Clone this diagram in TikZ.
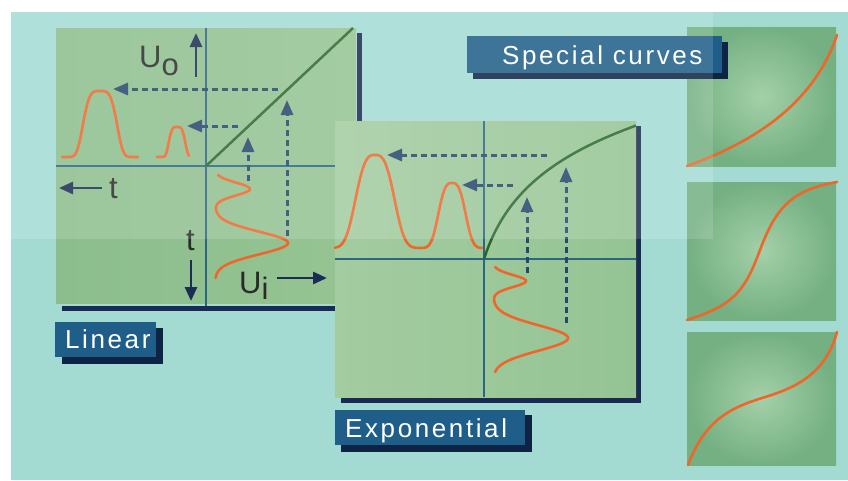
\documentclass[tikz,border=0pt]{standalone}
\usepackage{fontspec}
\setmainfont{Liberation Sans}
\newfontfamily\lblfont{Liberation Sans}[LetterSpace=10]
\usetikzlibrary{arrows.meta}
\definecolor{bgcyan}{HTML}{A3DBD3}
\definecolor{panelL}{HTML}{8CBD8C}
\definecolor{panelR}{HTML}{96C493}
\definecolor{expL}{HTML}{A3CCA0}
\definecolor{expR}{HTML}{95C494}
\definecolor{spin}{HTML}{A4D0A8}
\definecolor{spout}{HTML}{74B082}
\definecolor{boxblue}{HTML}{1F5E88}
\definecolor{boxshadow}{HTML}{0D2445}
\definecolor{barnavy}{HTML}{1B2A52}
\definecolor{axisblue}{HTML}{2B6686}
\definecolor{pulseorange}{HTML}{F0662A}
\definecolor{curvegreen}{HTML}{2A672C}
\definecolor{dashblue}{HTML}{27476C}
\definecolor{arrownavy}{HTML}{1A2E55}
\definecolor{txtdark}{HTML}{2A2A2A}
\tikzset{
  axisline/.style={draw=axisblue, line width=1.6pt},
  bar/.style={fill=barnavy},
  pulse/.style={draw=pulseorange, line width=2.6pt, line cap=round, line join=round},
  transfer/.style={draw=curvegreen, line width=2.5pt},
  dasharrow/.style={draw=dashblue, line width=3pt, dash pattern=on 6pt off 4pt, -{Triangle[length=15pt,width=12pt]}},
  solidarrow/.style={draw=arrownavy, line width=2.8pt, -{Triangle[length=14pt,width=12pt]}},
  axtext/.style={text=txtdark, inner sep=0pt, anchor=base west, font=\fontsize{31}{31}\selectfont},
  lbltext/.style={text=white, inner sep=0pt, anchor=base west, font=\lblfont\fontsize{26}{26}\selectfont},
}
\begin{document}
\begin{tikzpicture}[x=1pt,y=-1pt]
\useasboundingbox (0,0) rectangle (848,480);
\fill[white] (0,0) rectangle (848,480);
\fill[bgcyan] (11,12) rectangle (848,480);

% ---------------- Linear panel ----------------
\fill[bar] (357,33) rectangle (362,311);
\fill[bar] (62,306) rectangle (362,311);
\shade[left color=panelL, right color=panelR] (56,28) rectangle (356,303);
\coordinate (lo) at (206,166);
\draw[axisline] (206,28) -- (206,306);
\draw[axisline] (56,166) -- (356,166);
\draw[transfer] (lo) -- (353,28);
% output pulses
\draw[pulse] plot[domain=62:138, samples=90] (\x, {157-66*exp(-((\x-100)*(\x-100)/346)^2)});
\draw[pulse] plot[domain=157:189, samples=50] (\x, {157-30*exp(-((\x-177)*(\x-177)/81)^2)});
% input pulse
\draw[pulse] plot[domain=175:278, samples=120] ({215+35*exp(-(\x-189)*(\x-189)/81)+73*exp(-(\x-243)*(\x-243)/256)}, \x);
% dashed projections
\draw[dasharrow] (278,89) -- (113,89);
\draw[dasharrow] (238,126) -- (187,126);
\draw[dasharrow] (287,236) -- (287,100);
\draw[dasharrow] (248,181) -- (248,137);
% axis arrows and labels
\draw[solidarrow] (196,77) -- (196,33);
\node[axtext] (uo) at (139,67) {U\raisebox{-8pt}{o}};
\draw[solidarrow] (102,188) -- (59,188);
\node[axtext] (tl) at (109,198) {t};
\draw[solidarrow] (191,260) -- (191,301);
\node[axtext] (td) at (186,250) {t};
\node[axtext] (ui) at (239,293) {U\raisebox{-6pt}{i}};
\draw[solidarrow] (277,278) -- (327,278);
% label
\fill[boxshadow] (62,328) rectangle (163,364);
\fill[boxblue] (55,322) rectangle (156,357);
\node[lbltext] (linlbl) at (65,348) {Linear};

% ---------------- Exponential panel ----------------
\fill[bar] (636,126) rectangle (641,403);
\fill[bar] (341,398) rectangle (641,403);
\shade[left color=expL, right color=expR] (335,121) rectangle (636,397);
\coordinate (eo) at (484,259);
\draw[axisline] (484,121) -- (484,397);
\draw[axisline] (335,259) -- (636,259);
\draw[transfer] plot[domain=484:636, samples=100] (\x, {259-62*ln(1+(\x-484)/20)});
% output pulses
\draw[pulse] plot[domain=335:482, samples=200] (\x, {248-93*exp(-(abs(\x-375)/22.6)^3)-65*exp(-(abs(\x-452)/15.8)^3)});
% input pulse
\draw[pulse] plot[domain=267:372, samples=120] ({493+33*exp(-(\x-281)*(\x-281)/72)+75*exp(-(\x-338)*(\x-338)/324)}, \x);
% dashed projections
\draw[dasharrow] (547,155) -- (387,155);
\draw[dasharrow] (513,185) -- (462,185);
\draw[dasharrow] (566,323) -- (566,167);
\draw[dasharrow] (527,273) -- (527,197);
% label
\fill[boxshadow] (341,415) rectangle (532,452);
\fill[boxblue] (335,410) rectangle (525,445);
\node[lbltext] (explbl) at (345,437) {Exponential};

% ---------------- Special curves ----------------
\shade[inner color=spin, outer color=spout] (687,27) rectangle (836,166);
\shade[inner color=spin, outer color=spout] (687,182) rectangle (836,320);
\shade[inner color=spin, outer color=spout] (687,332) rectangle (836,465);
\draw[pulse] (687,166) .. controls (760,140) and (815,100) .. (837,35);
\draw[pulse] (687,320) .. controls (735,305) and (745,290) .. (760,250) .. controls (775,210) and (790,190) .. (837,182);
\draw[pulse] (688,465) .. controls (705,420) and (730,408) .. (762,398) .. controls (795,388) and (825,375) .. (837,332);
\fill[boxshadow] (473,42) rectangle (728,79);
\fill[boxblue] (467,36) rectangle (722,73);
\node[lbltext] (splbl) at (502,64) {Special curves};

% light upper band
\fill[white, opacity=0.14] (0,0) rectangle (713,239);
\end{tikzpicture}
\end{document}
